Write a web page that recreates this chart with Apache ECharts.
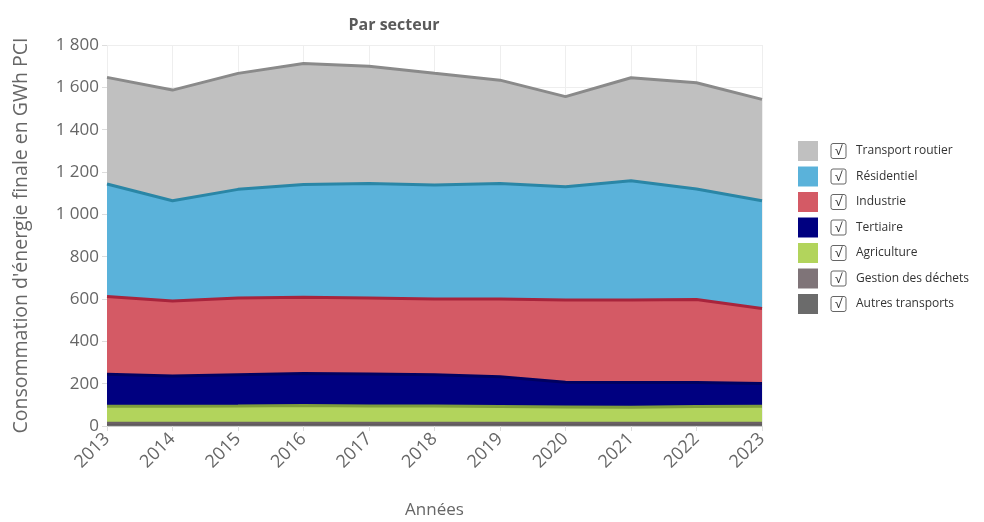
<!DOCTYPE html>
<html>
<head>
<meta charset="utf-8">
<script src="https://cdn.jsdelivr.net/npm/echarts@6/dist/echarts.min.js"></script>
<style>
  html, body { margin: 0; padding: 0; background: #fff; }
  #chart { width: 984px; height: 522px; }
</style>
</head>
<body>
<div id="chart"></div>
<script>
// années
var years = ['2013', '2014', '2015', '2016', '2017', '2018', '2019', '2020', '2021', '2022', '2023'];

// consommation par secteur, GWh PCI (empilées de bas en haut)
var autresTransports = [12, 12, 12, 12, 12, 12, 12, 12, 12, 12, 12];
var gestionDechets   = [1, 1, 1, 1, 1, 1, 1, 1, 1, 1, 1];
var agriculture      = [80, 80, 81, 84, 82, 81, 79, 77, 75, 79, 80];
var tertiaire        = [152, 143, 148, 151, 151, 148, 141, 117, 117, 113, 108];
var industrie        = [367, 354, 363, 360, 359, 358, 367, 388, 390, 393, 354];
var residentiel      = [531, 474, 513, 533, 541, 538, 546, 535, 564, 522, 509];
var transportRoutier = [504, 523, 548, 572, 554, 528, 488, 426, 486, 502, 479];

var yTicks = [0, 200, 400, 600, 800, 1000, 1200, 1400, 1600, 1800];

var chart = echarts.init(document.getElementById('chart'));

function area(name, data, fill, line) {
  return {
    name: name,
    type: 'line',
    stack: 'total',
    data: data,
    symbol: 'none',
    lineStyle: { color: line, width: 3 },
    itemStyle: { color: fill },
    areaStyle: { color: fill, opacity: 1 },
    emphasis: { disabled: true }
  };
}

var option = {
  animation: false,
  textStyle: { fontFamily: '"Open Sans", "Liberation Sans", Arial, sans-serif' },
  title: {
    text: 'Par secteur',
    left: 389,
    textAlign: 'center',
    top: 12,
    textStyle: { fontSize: 16, fontWeight: 'bold', color: '#5a5a5a' }
  },
  legend: {
    orient: 'vertical',
    left: 798,
    top: 141,
    padding: 0,
    itemWidth: 20,
    itemHeight: 20,
    itemGap: 5.5,
    icon: 'rect',
    data: ['Transport routier', 'Résidentiel', 'Industrie', 'Tertiaire', 'Agriculture', 'Gestion des déchets', 'Autres transports'],
    formatter: function (name) { return '{sp|}{cb|√}{sp2|}' + name; },
    textStyle: {
      fontSize: 12,
      color: '#333',
      rich: {
        sp: { width: 8 },
        sp2: { width: 10 },
        cb: {
          fontSize: 13,
          color: '#333',
          borderColor: '#666',
          borderWidth: 1,
          borderRadius: 2,
          width: 13,
          height: 14,
          align: 'center',
          padding: [1, 1, 0, 1]
        }
      }
    }
  },
  grid: { left: 107, right: 222, top: 45, bottom: 96, containLabel: false, outerBoundsMode: 'none' },
  xAxis: {
    type: 'category',
    data: years,
    boundaryGap: false,
    name: 'Années',
    nameLocation: 'middle',
    nameGap: 76,
    nameTextStyle: { fontSize: 17, color: '#666' },
    axisLine: { show: true, lineStyle: { color: '#ccc' } },
    axisTick: { show: true, lineStyle: { color: '#ddd' } },
    axisLabel: { rotate: 45, fontSize: 18, color: '#666', margin: 10 },
    splitLine: { show: true, lineStyle: { color: '#eee' } }
  },
  yAxis: {
    type: 'value',
    min: yTicks[0],
    max: yTicks[yTicks.length - 1],
    interval: 200,
    name: "Consommation d'énergie finale en GWh PCI",
    nameLocation: 'middle',
    nameGap: 76,
    nameTextStyle: { fontSize: 19.5, color: '#666' },
    axisLine: { show: false },
    axisTick: { show: true, length: 5, lineStyle: { color: '#ddd' } },
    axisLabel: {
      fontSize: 17,
      color: '#666',
      margin: 8,
      formatter: function (v) { return String(v).replace(/\B(?=(\d{3})+(?!\d))/g, ' '); }
    },
    splitLine: { lineStyle: { color: '#eee' } }
  },
  series: [
    area('Autres transports', autresTransports, '#6b6b6b', '#444'),
    area('Gestion des déchets', gestionDechets, '#7f7478', '#6a6064'),
    area('Agriculture', agriculture, '#b2d45c', '#7f9e3c'),
    area('Tertiaire', tertiaire, '#000080', '#000060'),
    area('Industrie', industrie, '#d45a65', '#a8243c'),
    area('Résidentiel', residentiel, '#5ab2da', '#2a86a6'),
    area('Transport routier', transportRoutier, '#c0c0c0', '#8a8a8a')
  ]
};

chart.setOption(option);
</script>
</body>
</html>
